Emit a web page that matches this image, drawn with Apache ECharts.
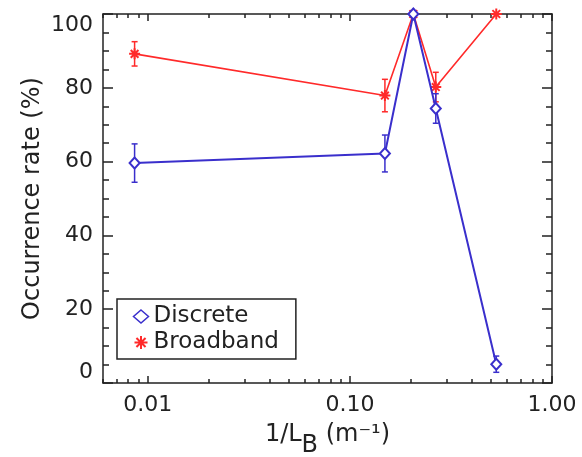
<!DOCTYPE html>
<html><head><meta charset="utf-8">
<script src="https://cdn.jsdelivr.net/npm/echarts@6/dist/echarts.min.js"></script>
<style>html,body{margin:0;padding:0;background:#fff}#c{width:582px;height:457px}</style>
</head><body><div id="c"></div>
<script>
const xValues = [0.0086, 0.149, 0.206, 0.266, 0.53];
const discrete = [59.6, 62.2, 100, 74.4, 5.1];
const discreteErr = [5.2, 5.0, 0, 4.0, 2.2];
const broadband = [89.2, 77.9, 100, 80.2, 100];
const broadbandErr = [3.3, 4.4, 0, 4.0, 0];
const xMajorTicks = [0.01, 0.1, 1];
const xMinorTicks = [0.006, 0.007, 0.008, 0.009,
  0.02, 0.03, 0.04, 0.05, 0.06, 0.07, 0.08, 0.09,
  0.2, 0.3, 0.4, 0.5, 0.6, 0.7, 0.8, 0.9];
const seriesNames = ['Discrete', 'Broadband'];

const BLUE = '#3a2fcc', RED = '#ff2a2a', INK = '#222';
const FONT = 'DejaVu Sans';
const axisLS = {color: INK, width: 1.5};
const ASTER = 'path://M0,-10L0,10M-10,0L10,0M-7,-7L7,7M-7,7L7,-7';

function xAx(pos, major, extra) {
  return Object.assign({
    type: 'log', logBase: 10, min: 0.006, max: 1, position: pos,
    axisLine: {show: major, lineStyle: axisLS},
    axisTick: {show: true, inside: true, length: major ? 7 : 4,
      customValues: major ? xMajorTicks : xMinorTicks, lineStyle: axisLS},
    axisLabel: {show: false},
    splitLine: {show: false}, minorTick: {show: false}, minorSplitLine: {show: false}
  }, extra || {});
}
function yAx(pos, extra) {
  return Object.assign({
    type: 'value', min: 0, max: 100, interval: 20, position: pos,
    axisLine: {show: true, lineStyle: axisLS},
    axisTick: {show: true, inside: true, length: 10, lineStyle: axisLS},
    minorTick: {show: true, splitNumber: 4, length: 6, lineStyle: axisLS},
    axisLabel: {show: false},
    splitLine: {show: false}, minorSplitLine: {show: false}
  }, extra || {});
}
function errSeries(vals, errs, color) {
  return {
    type: 'custom', xAxisIndex: 0, yAxisIndex: 0, z: 3, silent: true,
    data: xValues.map((x, i) => [x, vals[i] - errs[i], Math.min(100, vals[i] + errs[i])]),
    renderItem: function (params, api) {
      const x = api.value(0), lo = api.value(1), hi = api.value(2);
      if (hi - lo <= 0) return null;
      const p1 = api.coord([x, hi]), p2 = api.coord([x, lo]);
      const w = 3, st = {stroke: color, lineWidth: 1.5};
      return {type: 'group', children: [
        {type: 'line', shape: {x1: p1[0], y1: p1[1], x2: p2[0], y2: p2[1]}, style: st},
        {type: 'line', shape: {x1: p1[0] - w, y1: p1[1], x2: p1[0] + w, y2: p1[1]}, style: st},
        {type: 'line', shape: {x1: p2[0] - w, y1: p2[1], x2: p2[0] + w, y2: p2[1]}, style: st}
      ]};
    }
  };
}

const chart = echarts.init(document.getElementById('c'), null, {renderer: 'canvas'});
chart.setOption({
  animation: false,
  textStyle: {fontFamily: FONT, color: INK},
  grid: {left: 103, right: 30, top: 14, bottom: 74, containLabel: false, outerBoundsMode: 'none'},
  xAxis: [
    xAx('bottom', true, {
      axisLabel: {show: true, customValues: xMajorTicks, margin: 11, fontSize: 22,
        fontFamily: FONT, color: INK, formatter: v => Number(v).toFixed(2)},
      name: '1/L{sub|B} (m⁻¹)', nameLocation: 'middle', nameGap: 29, nameMoveOverlap: false,
      nameTextStyle: {fontSize: 24, fontFamily: FONT, color: INK,
        rich: {sub: {fontSize: 24, fontFamily: FONT, color: INK, lineHeight: 46, verticalAlign: 'bottom'}}}
    }),
    xAx('bottom', false),
    xAx('top', true),
    xAx('top', false)
  ],
  yAxis: [
    yAx('left', {
      axisLabel: {show: true, fontSize: 22, margin: 10, fontFamily: FONT, color: INK,
        verticalAlignMaxLabel: 'top', verticalAlignMinLabel: 'bottom'},
      name: 'Occurrence rate (%)', nameLocation: 'middle', nameGap: 58, nameMoveOverlap: false,
      nameTextStyle: {fontSize: 24, fontFamily: FONT, color: INK}
    }),
    yAx('right')
  ],
  legend: {
    orient: 'vertical', left: 117, top: 299,
    padding: [6, 17, 5, 15], itemGap: 3, itemWidth: 15, itemHeight: 13,
    borderColor: INK, borderWidth: 1.5, borderRadius: 0,
    textStyle: {fontSize: 23, fontFamily: FONT, color: INK},
    selectedMode: false,
    data: [
      {name: seriesNames[0], icon: 'diamond', itemStyle: {color: '#fff', borderColor: BLUE, borderWidth: 1.5}},
      {name: seriesNames[1], icon: ASTER, itemStyle: {color: 'none', borderColor: RED, borderWidth: 2}}
    ]
  },
  series: [
    errSeries(broadband, broadbandErr, RED),
    {
      name: seriesNames[1], type: 'line', xAxisIndex: 0, yAxisIndex: 0, z: 4,
      data: xValues.map((x, i) => [x, broadband[i]]),
      lineStyle: {color: RED, width: 1.6},
      symbol: ASTER, symbolSize: 11,
      itemStyle: {color: 'none', borderColor: RED, borderWidth: 2}
    },
    errSeries(discrete, discreteErr, BLUE),
    {
      name: seriesNames[0], type: 'line', xAxisIndex: 0, yAxisIndex: 0, z: 5,
      data: xValues.map((x, i) => [x, discrete[i]]),
      lineStyle: {color: BLUE, width: 2},
      symbol: 'emptyDiamond', symbolSize: [10, 11],
      itemStyle: {color: BLUE, borderColor: BLUE, borderWidth: 1.5}
    }
  ]
});
</script>
</body></html>
